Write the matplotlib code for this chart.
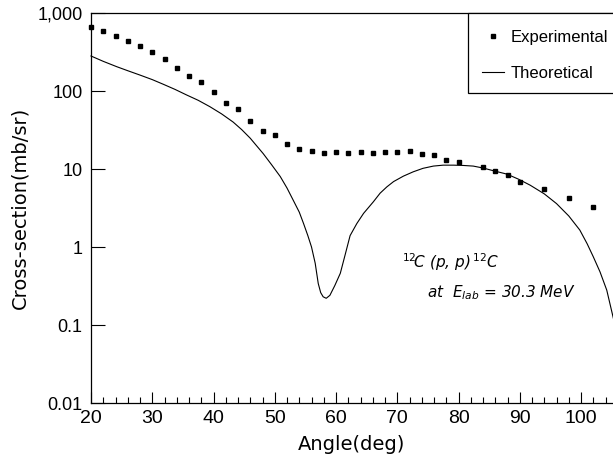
# -*- coding: utf-8 -*-

"""
Elastic proton scattering on carbon-12: measured versus calculated
differential cross-section (log scale) as a function of angle.
"""

# *****************************************************************************
# *** Import modules
import matplotlib
matplotlib.use('Agg')
import matplotlib.pyplot as plt
from matplotlib.patches import Rectangle
from matplotlib.ticker import FixedLocator, MultipleLocator
# *****************************************************************************


# *****************************************************************************
# *** Data

# Experimental angles (deg):
vecAngExp = [20, 22, 24, 26, 28, 30, 32, 34, 36, 38, 40, 42, 44, 46, 48, 50,
             52, 54, 56, 58, 60, 62, 64, 66, 68, 70, 72, 74, 76, 78, 80, 84,
             86, 88, 90, 94, 98, 102]

# Experimental cross-sections (mb/sr):
vecCrsExp = [667, 593, 507, 442, 381, 313, 255, 199, 157, 129, 98, 69.5, 58,
             41.7, 31, 27.3, 20.9, 18, 17.2, 15.9, 16.4, 15.9, 16.4, 16.2,
             16.4, 16.7, 17.2, 15.6, 15.1, 13, 12.2, 10.5, 9.5, 8.4, 6.9, 5.5,
             4.2, 3.3]

# Theoretical angles (deg):
vecAngThe = [20, 22, 24.2, 26, 28, 30, 31.8, 33.7, 35.6, 37.5, 39.4, 41.3,
             43.2, 44.6, 46, 47, 48.1, 49.5, 50.9, 52, 53, 54, 54.7, 55.4, 56,
             56.6, 57.1, 57.5, 57.9, 58.4, 59, 59.8, 60.7, 61.5, 62.3, 63.4,
             64.5, 66.1, 67.2, 68.3, 69.4, 71, 72.6, 74.2, 75.9, 77.5, 79.2,
             80.8, 82.4, 84, 85.7, 87.9, 89.8, 91.7, 94, 96, 98, 99.8, 101,
             102, 103.1, 104.2, 105.3]

# Theoretical cross-sections (mb/sr):
vecCrsThe = [281, 240, 205, 182, 160, 140, 122, 105, 89, 76, 63, 51, 40, 32,
             24.8, 20, 15.8, 11.3, 8.0, 5.7, 4.0, 2.8, 2.0, 1.4, 1.0, 0.62,
             0.34, 0.26, 0.23, 0.22, 0.24, 0.32, 0.46, 0.8, 1.4, 2.0, 2.7,
             3.8, 4.9, 5.9, 6.9, 8.1, 9.2, 10.2, 10.9, 11.2, 11.2, 11.1, 10.9,
             10.3, 9.5, 8.6, 7.4, 6.2, 4.8, 3.6, 2.5, 1.65, 1.1, 0.75, 0.48,
             0.28, 0.12]

# Y tick values and labels:
vecYtck = [0.01, 0.1, 1, 10, 100, 1000]
lstYlbl = ['0.01', '0.1', '1', '10', '100', '1,000']

# X tick values:
vecXtck = [20, 30, 40, 50, 60, 70, 80, 90, 100]
# *****************************************************************************


# *****************************************************************************
# *** Plot

varSizeX = 613.0
varSizeY = 471.0
varDpi = 100.0

fgr01 = plt.figure(figsize=(varSizeX / varDpi, varSizeY / varDpi),
                   dpi=varDpi)
fgr01.patch.set_facecolor('w')

# Axis position in pixels (left, top, right, bottom) of the original:
axs01 = fgr01.add_axes([91.0 / varSizeX,
                        1.0 - 403.0 / varSizeY,
                        (613.0 - 91.0) / varSizeX,
                        (403.0 - 13.0) / varSizeY])

# Theoretical curve:
axs01.plot(vecAngThe, vecCrsThe,
           color='k',
           linewidth=0.8,
           label='Theoretical',
           solid_joinstyle='round',
           clip_on=False)

# Experimental points:
axs01.plot(vecAngExp, vecCrsExp,
           linestyle='none',
           marker='s',
           markersize=3.2,
           markerfacecolor='k',
           markeredgecolor='k',
           label='Experimental',
           clip_on=False)

axs01.set_yscale('log')
axs01.set_xlim([20.0, 105.22])
axs01.set_ylim([0.01, 1000.0])

axs01.yaxis.set_major_locator(FixedLocator(vecYtck))
axs01.yaxis.set_minor_locator(FixedLocator([]))
axs01.set_yticklabels(lstYlbl, family='Liberation Sans', fontsize=13)

axs01.set_xticks(vecXtck)
axs01.xaxis.set_minor_locator(MultipleLocator(2))
axs01.set_xticklabels([str(x) for x in vecXtck],
                      family='Liberation Sans', fontsize=14)

axs01.tick_params(axis='y', which='major', direction='in', length=10,
                  width=0.8, pad=6, right=False)
axs01.tick_params(axis='x', which='major', direction='in', length=8,
                  width=0.8, pad=5, top=False)
axs01.tick_params(axis='x', which='minor', direction='in', length=4,
                  width=0.8, top=False)

axs01.set_xlabel('Angle(deg)', family='DejaVu Sans', fontsize=14,
                 labelpad=6)
axs01.set_ylabel('Cross-section(mb/sr)', family='DejaVu Sans', fontsize=14,
                 labelpad=6)

for strTmp in ['top', 'bottom', 'left']:
    axs01.spines[strTmp].set_linewidth(0.9)
axs01.spines['right'].set_visible(False)

# Handwritten reaction note:
axs01.text(0.596, 0.36, r'$^{12}\!$C (p, p)$\,^{12}$C',
           transform=axs01.transAxes, fontsize=11, fontstyle='italic',
           family='DejaVu Sans', ha='left', va='center')
axs01.text(0.643, 0.282, r'at  E$_{lab}$ = 30.3 MeV',
           transform=axs01.transAxes, fontsize=11, fontstyle='italic',
           family='DejaVu Sans', ha='left', va='center')

# Legend box (runs off the right edge of the scan):
fgr01.patches.append(Rectangle((468.0 / varSizeX, 1.0 - 93.0 / varSizeY),
                               0.3, 80.0 / varSizeY,
                               transform=fgr01.transFigure,
                               fill=True, facecolor='w', edgecolor='k',
                               linewidth=0.9, zorder=5))

lstHnd, lstLbl = axs01.get_legend_handles_labels()
lgd01 = fgr01.legend(lstHnd[::-1], lstLbl[::-1],
                     loc='upper left',
                     bbox_to_anchor=(474.0 / varSizeX, 1.0 - 22.0 / varSizeY),
                     frameon=False,
                     handlelength=1.3,
                     handletextpad=0.4,
                     labelspacing=1.25,
                     borderpad=0.0,
                     markerscale=0.8,
                     prop={'family': 'Liberation Sans', 'size': 12})
lgd01.set_zorder(6)

fgr01.savefig('out.png', dpi=varDpi, facecolor='w')
plt.close(fgr01)
# *****************************************************************************
